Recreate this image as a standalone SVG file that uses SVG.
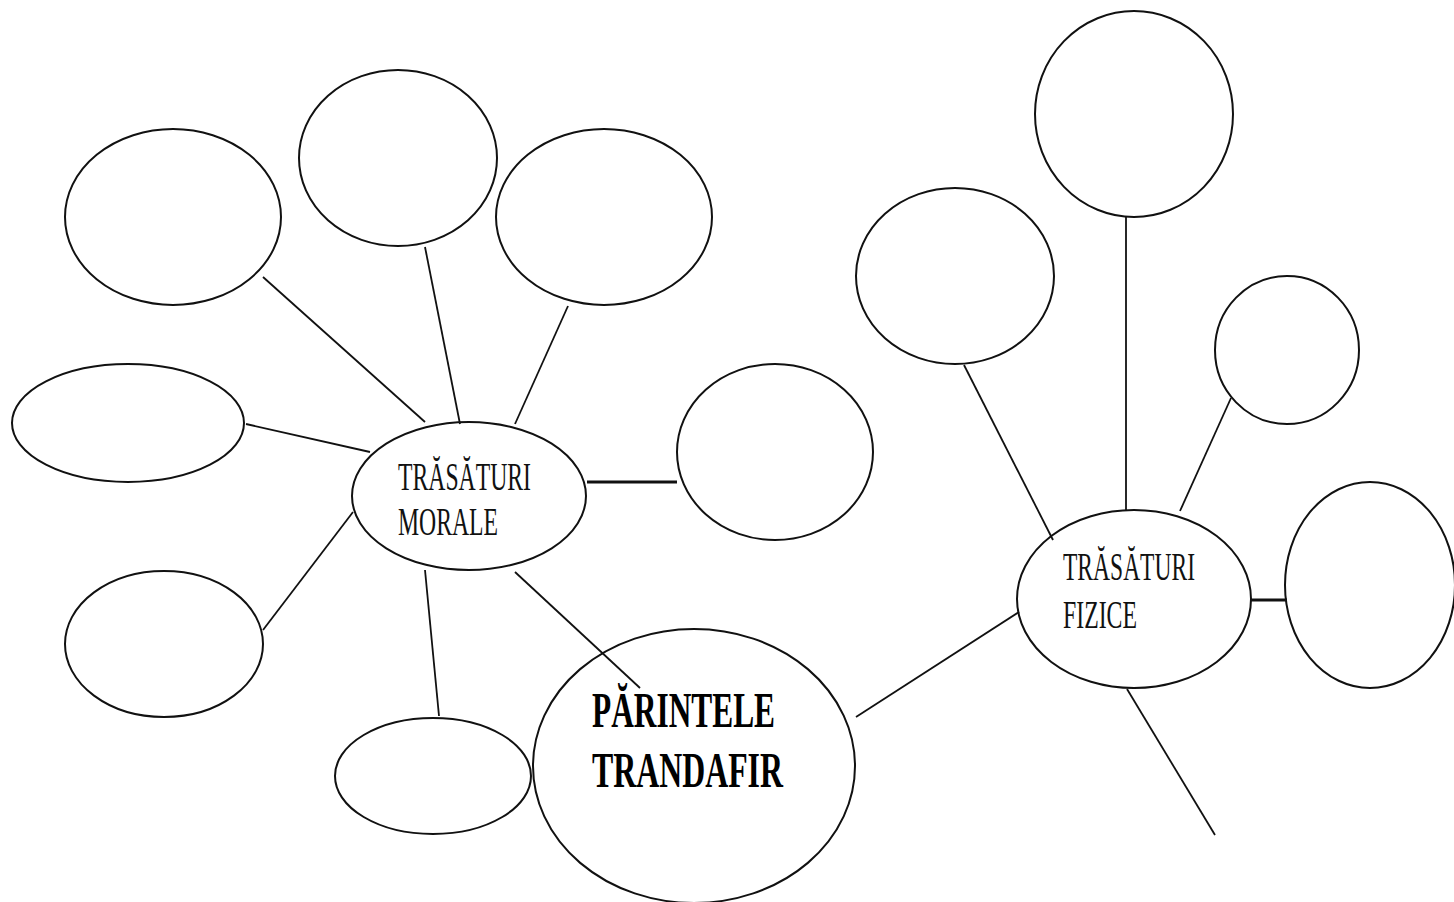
<svg xmlns="http://www.w3.org/2000/svg" width="1454" height="902" viewBox="0 0 1454 902">
<style>
.n{fill:#fff;stroke:#111;stroke-width:2}
.c line{stroke:#111;stroke-width:1.8}
.c line.t{stroke-width:3}
.lbl{font-family:"Liberation Serif","Times New Roman",serif;font-size:41px;fill:#111}
.big{font-family:"Liberation Serif","Times New Roman",serif;font-size:51px;font-weight:bold;fill:#000}
</style>
<rect width="1454" height="902" fill="#fff"/>
<g id="m1"><ellipse class="n" cx="173" cy="217" rx="108" ry="88"/></g>
<g id="m2"><ellipse class="n" cx="398" cy="158" rx="99" ry="88"/></g>
<g id="m3"><ellipse class="n" cx="604" cy="217" rx="108" ry="88"/></g>
<g id="m4"><ellipse class="n" cx="128" cy="423" rx="116" ry="59"/></g>
<g id="m5"><ellipse class="n" cx="775" cy="452" rx="98" ry="88"/></g>
<g id="m6"><ellipse class="n" cx="164" cy="644" rx="99" ry="73"/></g>
<g id="m7"><ellipse class="n" cx="433" cy="776" rx="98" ry="58"/></g>
<g id="morale"><ellipse class="n" cx="469" cy="496" rx="117" ry="74"/>
<text class="lbl" x="398" y="490" textLength="133" lengthAdjust="spacingAndGlyphs">TRĂSĂTURI</text>
<text class="lbl" x="398" y="535" textLength="100" lengthAdjust="spacingAndGlyphs">MORALE</text></g>
<g id="parinte"><ellipse class="n" cx="694" cy="766" rx="161" ry="137"/>
<text class="big" x="592" y="727" textLength="183" lengthAdjust="spacingAndGlyphs">PĂRINTELE</text>
<text class="big" x="592" y="787" textLength="191" lengthAdjust="spacingAndGlyphs">TRANDAFIR</text></g>
<g id="f1"><ellipse class="n" cx="1134" cy="114" rx="99" ry="103"/></g>
<g id="f2"><ellipse class="n" cx="955" cy="276" rx="99" ry="88"/></g>
<g id="f3"><ellipse class="n" cx="1287" cy="350" rx="72" ry="74"/></g>
<g id="f4"><ellipse class="n" cx="1370" cy="585" rx="85" ry="103"/></g>
<g id="fizice"><ellipse class="n" cx="1134" cy="599" rx="117" ry="89"/>
<text class="lbl" x="1063" y="580" textLength="132" lengthAdjust="spacingAndGlyphs">TRĂSĂTURI</text>
<text class="lbl" x="1063" y="628" textLength="74" lengthAdjust="spacingAndGlyphs">FIZICE</text></g>
<g class="c" id="connectors">
<line x1="263" y1="277" x2="425" y2="422"/>
<line x1="425" y1="247" x2="460" y2="424"/>
<line x1="568" y1="306" x2="515" y2="424"/>
<line x1="246" y1="424" x2="370" y2="452"/>
<line class="t" x1="587" y1="482" x2="677" y2="482"/>
<line x1="353" y1="512" x2="263" y2="630"/>
<line x1="425" y1="570" x2="439" y2="716"/>
<line x1="515" y1="572" x2="640" y2="688"/>
<line x1="856" y1="717" x2="1019" y2="612"/>
<line x1="964" y1="365" x2="1053" y2="540"/>
<line x1="1126" y1="217" x2="1126" y2="510"/>
<line x1="1231" y1="398" x2="1180" y2="511"/>
<line class="t" x1="1251" y1="600" x2="1287" y2="600"/>
<line x1="1127" y1="689" x2="1215" y2="835"/>
</g>
</svg>
